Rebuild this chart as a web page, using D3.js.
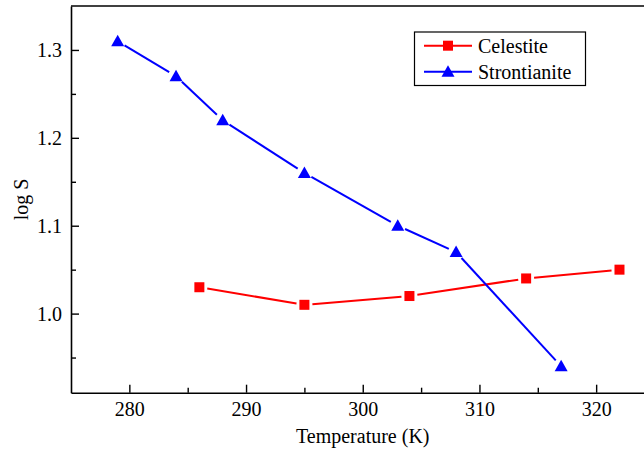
<!DOCTYPE html>
<html>
  <script src="https://cdn.jsdelivr.net/npm/d3@7"></script>
  <style>
    body { margin: 0; background: #fff; }
    svg text { font-family: 'Liberation Serif', 'Times New Roman', Times, serif !important; fill: #000; }
  </style>
  <body>
    <script>
var celestiteT = [286, 295, 304, 314, 322]
  , celestiteLogS = [1.03, 1.01, 1.02, 1.04, 1.05]
  , strontianiteT = [279, 284, 288, 295, 303, 308, 317]
  , strontianiteLogS = [1.31, 1.27, 1.22, 1.16, 1.10, 1.07, 0.94]
  , xTicks = [280, 290, 300, 310, 320]
  , yTicks = [1.0, 1.1, 1.2, 1.3]
  , seriesNames = ['Celestite', 'Strontianite']

var W = 644, H = 453
  , pL = 71, pT = 6, pR = 654.5, pB = 392.7
  , serif = "'Liberation Serif', 'Times New Roman', Times, serif"

var svg = d3.select('body').append('svg').attr('width', W).attr('height', H)
  .attr('font-family', serif)

var x = d3.scaleLinear().domain([275, 325]).range([pL, pR])
  , y = d3.scaleLinear().domain([0.91, 1.35]).range([pB, pT])

var series = [
  { name: seriesNames[0], color: '#ff0000', shape: 'square',
    pts: celestiteT.map(function(t, i){ return [t, celestiteLogS[i]] }) },
  { name: seriesNames[1], color: '#0000ff', shape: 'triangle',
    pts: strontianiteT.map(function(t, i){ return [t, strontianiteLogS[i]] }) }
]

// frame
svg.append('line').attr('x1', pL).attr('x2', pR).attr('y1', pT).attr('y2', pT)
  .attr('stroke', '#000').attr('stroke-width', 1.6)

// x axis, ticks pointing in
var xAxis = svg.append('g').attr('transform', 'translate(0,' + pB + ')')
  .call(d3.axisBottom(x).tickValues(xTicks).tickSize(-8).tickPadding(16).tickSizeOuter(0))
xAxis.selectAll('text').attr('font-size', 20).attr('dy', '0.35em')
svg.append('g').attr('transform', 'translate(0,' + pB + ')')
  .call(d3.axisBottom(x).tickValues(d3.range(285, 326, 10)).tickSize(-5).tickFormat('').tickSizeOuter(0))
  .select('.domain').remove()

var yAxis = svg.append('g').attr('transform', 'translate(' + pL + ',0)')
  .call(d3.axisLeft(y).tickValues(yTicks).tickFormat(d3.format('.1f')).tickSize(-8).tickPadding(9).tickSizeOuter(0))
yAxis.selectAll('text').attr('font-size', 20)
svg.append('g').attr('transform', 'translate(' + pL + ',0)')
  .call(d3.axisLeft(y).tickValues([0.95, 1.05, 1.15, 1.25]).tickSize(-5).tickFormat('').tickSizeOuter(0))
  .select('.domain').remove()

svg.selectAll('g').attr('font-family', serif)
svg.selectAll('.domain').attr('stroke-width', 1.6)
svg.selectAll('.tick line').attr('stroke-width', 1.4)

// axis titles
svg.append('text').attr('x', (pL + pR) / 2).attr('y', 443)
  .attr('text-anchor', 'middle').attr('font-size', 20).text('Temperature (K)')
svg.append('text').attr('transform', 'translate(28,' + ((pT + pB) / 2) + ') rotate(-90)')
  .attr('text-anchor', 'middle').attr('font-size', 20).text('log S')

function marker(g, shape, color){
  if (shape === 'square')
    g.append('rect').attr('x', -5).attr('y', -5).attr('width', 10).attr('height', 10).attr('fill', color)
  else
    g.append('path').attr('d', 'M0,-6.5L6.5,5L-6.5,5Z').attr('fill', color)
}

// lines with a small gap at each symbol
var gap = 8
series.forEach(function(s){
  var g = svg.append('g')
  d3.pairs(s.pts).forEach(function(p){
    var x1 = x(p[0][0]), y1 = y(p[0][1]), x2 = x(p[1][0]), y2 = y(p[1][1])
      , len = Math.hypot(x2 - x1, y2 - y1), ux = (x2 - x1) / len, uy = (y2 - y1) / len
    g.append('line')
      .attr('x1', x1 + ux * gap).attr('y1', y1 + uy * gap)
      .attr('x2', x2 - ux * gap).attr('y2', y2 - uy * gap)
      .attr('stroke', s.color).attr('stroke-width', 2)
  })
  s.pts.forEach(function(p){
    marker(g.append('g').attr('transform', 'translate(' + x(p[0]) + ',' + y(p[1]) + ')'), s.shape, s.color)
  })
})

// legend
var lg = svg.append('g')
lg.append('rect').attr('x', 414.5).attr('y', 32).attr('width', 171).attr('height', 53.5)
  .attr('fill', '#fff').attr('stroke', '#000').attr('stroke-width', 1.2)
series.forEach(function(s, i){
  var ly = 45.7 + i * 26
  lg.append('line').attr('x1', 424).attr('x2', 472).attr('y1', ly).attr('y2', ly)
    .attr('stroke', s.color).attr('stroke-width', 2)
  marker(lg.append('g').attr('transform', 'translate(448,' + ly + ')'), s.shape, s.color)
  lg.append('text').attr('x', 478).attr('y', ly).attr('dy', '0.35em')
    .attr('font-size', 20).text(s.name)
})
    </script>
  </body>
</html>
